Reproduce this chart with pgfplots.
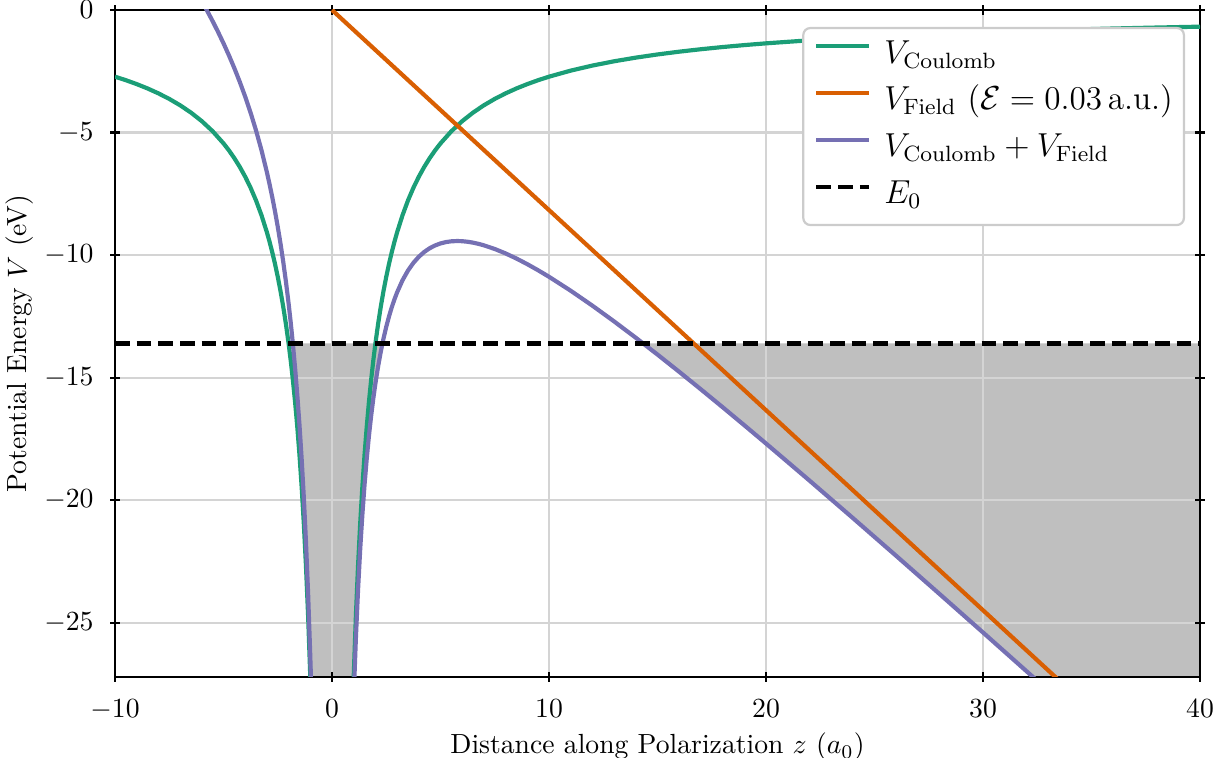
\documentclass[border=0pt]{standalone}
\usepackage{pgfplots}
\pgfplotsset{compat=1.18}

% Dark2 palette
\definecolor{dtwoGreen}{HTML}{1B9E77}
\definecolor{dtwoOrange}{HTML}{D95F02}
\definecolor{dtwoPurple}{HTML}{7570B3}

\begin{document}
\begin{tikzpicture}
\begin{axis}[
  set layers, clip mode=individual,
  scale only axis, width=390.6bp, height=240.1bp,
  xmin=-10, xmax=40, ymin=-27.2114, ymax=0,
  xtick={-10,0,10,20,30,40},
  ytick={-25,-20,-15,-10,-5,0},
  tick align=center, major tick length=3.5bp,
  every tick/.style={black, line width=0.8bp},
  axis line style={line width=0.8bp},
  grid=major, grid style={black!17, line width=0.8bp},
  xticklabel style={anchor=base, inner sep=0pt, yshift=-13bp},
  yticklabel style={anchor=east, inner sep=0pt, xshift=-5.8bp},
  xlabel={Distance along Polarization $z$ ($a_0$)},
  ylabel={Potential Energy $V$ (eV)},
  every axis x label/.style={at={(axis description cs:0.5,-0.1154)}, anchor=base},
  every axis y label/.style={at={(axis description cs:-0.0876,0.5)}, rotate=90, anchor=center},
  every axis plot/.append style={line join=round},
  legend cell align=left,
  legend image code/.code={\draw[#1] (0bp,3.6bp) -- (19bp,3.6bp);},
  legend style={at={(1,1)}, anchor=north east, xshift=-5.4bp, yshift=-6.1bp,
    draw=black!20, line width=0.8bp, rounded corners=2.5bp,
    fill=white, font=\large,
    inner xsep=4bp, inner ysep=4.1bp, row sep=4.9bp, column sep=4.7bp,
    nodes={inner sep=0pt, text height=8.5bp, text depth=3.5bp}},
]
\coordinate (bl) at (rel axis cs:0,0);
\coordinate (tr) at (rel axis cs:1,1);

% classically forbidden region: between V_Coulomb + V_Field and E_0
\addplot [on layer=axis background, fill=black!25, draw=none, forget plot] coordinates {
  (-1.8046,-13.6057) (-1.8,-13.64802) (-1.7,-14.61893) (-1.6,-15.70098)
  (-1.5,-16.91642) (-1.4,-18.29383) (-1.3,-19.87061) (-1.2,-21.69656)
  (-1.1,-23.83966) (-1.0,-26.39506) (-0.95,-27.86806)
  (0.95,-29.41910) (1.0,-28.02774) (1.1,-25.63562) (1.2,-23.65578)
  (1.3,-21.99309) (1.4,-20.57959) (1.5,-19.36544) (1.6,-18.31328)
  (1.7,-17.39449) (1.8,-16.58686) (1.9,-15.87284) (2,-15.23838)
  (2.125,-14.54009) (2.25,-13.93073) (2.3241,-13.6057)
} -- cycle;
\addplot [on layer=axis background, fill=black!25, draw=none, forget plot] coordinates {
  (14.3426,-13.6057) (15,-14.05922) (16,-14.76218) (17,-15.47848)
  (18,-16.20590) (19,-16.94268) (20,-17.68741) (22,-19.19640)
  (24,-20.72602) (26,-22.27148) (28,-23.82942) (30,-25.39731)
  (32,-26.97330) (34,-28.55597) (40,-33.33397) (40,-13.6057)
} -- cycle;

% V_Coulomb, z < 0
\addplot [dtwoGreen, line width=1.5bp] coordinates {
  (-10,-2.72114) (-9.5,-2.86436) (-9,-3.02349) (-8.5,-3.20134)
  (-8,-3.40143) (-7.5,-3.62819) (-7,-3.88734) (-6.5,-4.18637)
  (-6,-4.53523) (-5.5,-4.94753) (-5,-5.44228) (-4.75,-5.72872)
  (-4.5,-6.04698) (-4.25,-6.40268) (-4,-6.80285) (-3.75,-7.25637)
  (-3.5,-7.77469) (-3.25,-8.37274) (-3,-9.07047) (-2.875,-9.46484)
  (-2.75,-9.89505) (-2.625,-10.36625) (-2.5,-10.88456) (-2.375,-11.45743)
  (-2.25,-12.09396) (-2.125,-12.80536) (-2,-13.60570) (-1.9,-14.32179)
  (-1.8,-15.11744) (-1.7,-16.00671) (-1.6,-17.00713) (-1.5,-18.14093)
  (-1.4,-19.43671) (-1.3,-20.93185) (-1.2,-22.67617) (-1.1,-24.73764)
  (-1.0,-27.2114) (-0.95,-28.64358)
};
\addlegendentry{$V_{\mathrm{Coulomb}}$}
% V_Coulomb, z > 0
\addplot [dtwoGreen, line width=1.5bp, forget plot] coordinates {
  (0.95,-28.64358) (1.0,-27.2114) (1.1,-24.73764) (1.2,-22.67617)
  (1.3,-20.93185) (1.4,-19.43671) (1.5,-18.14093) (1.6,-17.00713)
  (1.7,-16.00671) (1.8,-15.11744) (1.9,-14.32179) (2,-13.60570)
  (2.125,-12.80536) (2.25,-12.09396) (2.375,-11.45743) (2.5,-10.88456)
  (2.625,-10.36625) (2.75,-9.89505) (2.875,-9.46484) (3,-9.07047)
  (3.25,-8.37274) (3.5,-7.77469) (3.75,-7.25637) (4,-6.80285)
  (4.25,-6.40268) (4.5,-6.04698) (4.75,-5.72872) (5,-5.44228)
  (5.5,-4.94753) (6,-4.53523) (6.5,-4.18637) (7,-3.88734)
  (7.5,-3.62819) (8,-3.40143) (8.5,-3.20134) (9,-3.02349)
  (9.5,-2.86436) (10,-2.72114) (11,-2.47376) (12,-2.26762)
  (13,-2.09318) (14,-1.94367) (15,-1.81409) (16,-1.70071)
  (17,-1.60067) (18,-1.51174) (19,-1.43218) (20,-1.36057)
  (22,-1.23688) (24,-1.13381) (26,-1.04659) (28,-0.97184)
  (30,-0.90705) (32,-0.85036) (34,-0.80034) (36,-0.75587)
  (38,-0.71609) (40,-0.68029)
};

% V_Field
\addplot [dtwoOrange, line width=1.5bp] coordinates {
  (0,0) (40,-32.65368)
};
\addlegendentry{$V_{\mathrm{Field}}$ ($\mathcal{E}=0.03\,\mathrm{a.u.}$)}

% V_Coulomb + V_Field, z < 0
\addplot [dtwoPurple, line width=1.5bp] coordinates {
  (-6.5,1.11985) (-6.25,0.74832) (-6,0.36282) (-5.75,-0.03845)
  (-5.5,-0.45765) (-5.25,-0.89732) (-5,-1.36057) (-4.75,-1.85110)
  (-4.5,-2.37344) (-4.25,-2.93323) (-4,-3.53748) (-3.75,-4.19509)
  (-3.5,-4.91749) (-3.25,-5.71963) (-3,-6.62144) (-2.875,-7.11786)
  (-2.75,-7.65011) (-2.625,-8.22335) (-2.5,-8.84370) (-2.375,-9.51862)
  (-2.25,-10.25719) (-2.125,-11.07063) (-2,-11.97302) (-1.9,-12.77074)
  (-1.8,-13.64802) (-1.7,-14.61893) (-1.6,-15.70098) (-1.5,-16.91642)
  (-1.4,-18.29383) (-1.3,-19.87061) (-1.2,-21.69656) (-1.1,-23.83966)
  (-1.0,-26.39506) (-0.95,-27.86806)
};
\addlegendentry{$V_{\mathrm{Coulomb}}+V_{\mathrm{Field}}$}
% V_Coulomb + V_Field, z > 0
\addplot [dtwoPurple, line width=1.5bp, forget plot] coordinates {
  (0.95,-29.41910) (1.0,-28.02774) (1.1,-25.63562) (1.2,-23.65578)
  (1.3,-21.99309) (1.4,-20.57959) (1.5,-19.36544) (1.6,-18.31328)
  (1.7,-17.39449) (1.8,-16.58686) (1.9,-15.87284) (2,-15.23838)
  (2.125,-14.54009) (2.25,-13.93073) (2.375,-13.39624) (2.5,-12.92542)
  (2.625,-12.50915) (2.75,-12.13999) (2.875,-11.81182) (3,-11.51950)
  (3.25,-11.02585) (3.5,-10.63189) (3.75,-10.31765) (4,-10.06822)
  (4.25,-9.87213) (4.5,-9.72052) (4.75,-9.60634) (5,-9.52399)
  (5.25,-9.46892) (5.5,-9.43741) (5.7735,-9.42630) (6,-9.43328)
  (6.25,-9.45596) (6.5,-9.49259) (6.75,-9.54163) (7,-9.60173)
  (7.5,-9.75076) (8,-9.93217) (8.5,-10.14025) (9,-10.37057)
  (9.5,-10.61961) (10,-10.88456) (11,-11.45352) (12,-12.06372)
  (13,-12.70563) (14,-13.37246) (15,-14.05922) (16,-14.76218)
  (17,-15.47848) (18,-16.20590) (19,-16.94268) (20,-17.68741)
  (22,-19.19640) (24,-20.72602) (26,-22.27148) (28,-23.82942)
  (30,-25.39731) (32,-26.97330) (34,-28.55597) (40,-33.33397)
};

% ground-state energy E_0
\addplot [black, line width=1.5bp, dash pattern=on 5.3bp off 2.5bp] coordinates {
  (-10,-13.6057) (40,-13.6057)
};
\addlegendentry{$E_0$}
\end{axis}
\pgfresetboundingbox
\useasboundingbox ([xshift=-41.4bp,yshift=-29.16bp]bl) rectangle ([xshift=9.36bp,yshift=3.6bp]tr);
\end{tikzpicture}
\end{document}
